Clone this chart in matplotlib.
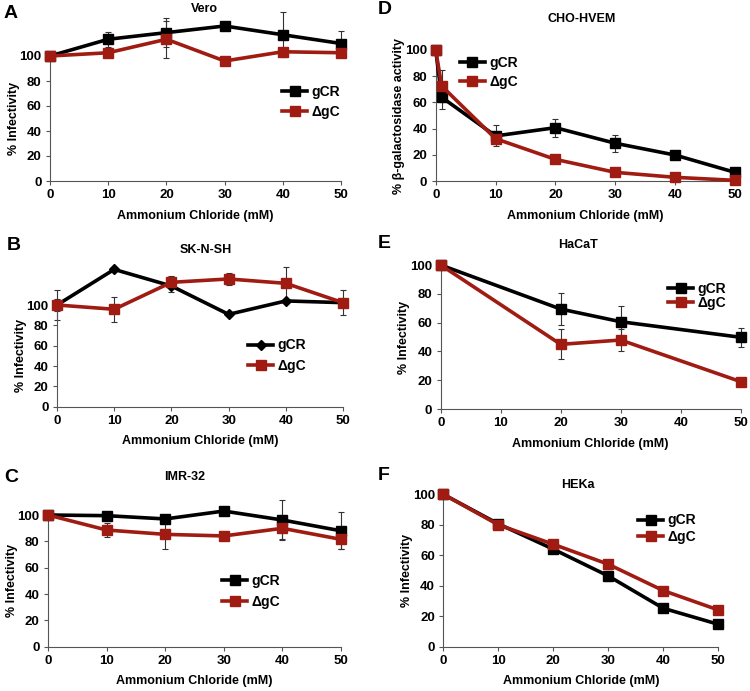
import numpy
import matplotlib
matplotlib.use("Agg")
import matplotlib.pyplot as pyplot

pyplot.rcParams["font.family"] = ["Liberation Sans", "DejaVu Sans"]
pyplot.rcParams["font.weight"] = "bold"

# --- data ---
conc = [0, 10, 20, 30, 40, 50]
concCHO = [0, 1, 10, 20, 30, 40, 50]
concHaCaT = [0, 20, 30, 50]

veroGCR = [100, 113.4, 118.7, 124, 117, 110]
veroGCRErr = [0, 6, 11.5, 0, 18, 10]
veroDgC = [100, 102.6, 113.4, 96, 103.4, 102.6]
veroDgCErr = [0, 0, 15, 0, 0, 0]

sknGCR = [100, 135, 118.7, 90.8, 104, 102.3]
sknGCRErr = [15, 0, 6, 0, 0, 0]
sknDgC = [100, 95.8, 122.3, 125.6, 121.3, 102.3]
sknDgCErr = [6, 12.5, 6, 6, 16, 12.5]

imrGCR = [100, 99.5, 97, 103, 96.2, 88]
imrGCRErr = [0, 0, 0, 0, 15, 14]
imrDgC = [100, 88.6, 85.3, 84.1, 89.9, 81.5]
imrDgCErr = [0, 5, 11, 0, 8, 7]

choGCR = [100, 63.9, 34.4, 40.7, 28.8, 19.8, 6.6]
choGCRErr = [0, 9, 8, 7, 6.5, 0, 0]
choDgC = [100, 72.5, 32.3, 16.5, 6.6, 2.8, 0.5]
choDgCErr = [0, 12, 0, 0, 0, 0, 0]

hacatGCR = [100, 69.4, 60.6, 49.8]
hacatGCRErr = [0, 11, 11, 6.5]
hacatDgC = [100, 44.9, 47.9, 19]
hacatDgCErr = [0, 10.5, 7.5, 0]

hekaGCR = [100, 80.6, 64, 46.4, 25.2, 14.7]
hekaGCRErr = [0, 0, 0, 3, 0, 0]
hekaDgC = [100, 80, 67.2, 54.1, 36.8, 24.1]
hekaDgCErr = [0, 0, 0, 0, 0, 0]

seriesNames = ["gCR", "\u0394gC"]
yTicks = [0, 20, 40, 60, 80, 100]
xTicks = [0, 10, 20, 30, 40, 50]

W, H = 750.0, 691.0
BLACK = "black"
RED = "#a01c12"


def fx(x):
    return x / W


def fy(y):
    return 1.0 - y / H


def rect(left, right, y0, y100):
    return [fx(left), fy(y0), (right - left) / W, (y0 - y100) / H]


panels = [
    # letter, title, ylabel, rect, x, gcr, gcrErr, dgc, dgcErr, gcrMarker, letterPos, titlePos, legendPos, legendSpacing
    ("A", "Vero", "% Infectivity", rect(50, 341, 181, 56), conc,
     veroGCR, veroGCRErr, veroDgC, veroDgCErr, "s", (4, 13), (204, 9), (282, 102), 0.45),
    ("B", "SK-N-SH", "% Infectivity", rect(57, 343, 406.7, 305), conc,
     sknGCR, sknGCRErr, sknDgC, sknDgCErr, "D", (7, 246), (206, 250), (248, 355.5), 0.45),
    ("C", "IMR-32", "% Infectivity", rect(48, 341, 646.7, 515), conc,
     imrGCR, imrGCRErr, imrDgC, imrDgCErr, "s", (4, 478), (185, 477), (222, 591.5), 0.5),
    ("D", "CHO-HVEM", "% \u03b2-galactosidase activity", rect(435.7, 735, 181, 50), concCHO,
     choGCR, choGCRErr, choDgC, choDgCErr, "s", (378, 10), (582, 19), (460, 72.5), 0.4),
    ("E", "HaCaT", "% Infectivity", rect(440.7, 740.7, 409, 265), concHaCaT,
     hacatGCR, hacatGCRErr, hacatDgC, hacatDgCErr, "s", (378, 243), (578, 245), (668, 296), 0.05),
    ("F", "HEKa", "% Infectivity", rect(443.3, 718.3, 646.7, 494.3), conc,
     hekaGCR, hekaGCRErr, hekaDgC, hekaDgCErr, "s", (378, 476), (578, 485), (638, 528.5), 0.15),
]

figure = pyplot.figure(figsize=(7.5, 6.91), dpi=100)

for (letter, title, ylabel, box, x, gcr, gcrErr, dgc, dgcErr, gcrMarker,
     letterPos, titlePos, legendPos, legendSpacing) in panels:
    axis = figure.add_axes(box)

    for values, errors, color, marker, ms, name in [
        (gcr, gcrErr, BLACK, gcrMarker, 7.5 if gcrMarker == "s" else 5, seriesNames[0]),
        (dgc, dgcErr, RED, "s", 7.5, seriesNames[1]),
    ]:
        values = numpy.asarray(values, dtype=float)
        errors = numpy.asarray(errors, dtype=float)
        xs = numpy.asarray(x, dtype=float)
        keep = errors > 0
        if keep.any():
            axis.errorbar(xs[keep], values[keep], yerr=errors[keep], fmt="none",
                          ecolor="#333333", elinewidth=0.8, capsize=2.5,
                          capthick=0.8, clip_on=False, zorder=2)
        axis.plot(xs, values, "-", color=color, linewidth=2.6, marker=marker,
                  markersize=ms, markeredgecolor=color, label=name,
                  clip_on=False, zorder=3)

    axis.set_xlim(0, 50)
    axis.set_ylim(0, 100)
    axis.set_xticks(xTicks)
    axis.set_yticks(yTicks)
    axis.tick_params(labelsize=9.5, length=3, width=0.8, color="#555555", pad=3)
    for label in axis.get_xticklabels() + axis.get_yticklabels():
        label.set_fontweight("bold")
    for side in ["top", "right"]:
        axis.spines[side].set_visible(False)
    for side in ["left", "bottom"]:
        axis.spines[side].set_color("#555555")
        axis.spines[side].set_linewidth(0.8)

    axis.set_xlabel("Ammonium Chloride (mM)", fontsize=9, fontweight="bold", labelpad=6)
    axis.set_ylabel(ylabel, fontsize=9, fontweight="bold", labelpad=0)

    figure.text(fx(letterPos[0]), fy(letterPos[1]), letter, fontsize=14,
                fontweight="bold", ha="left", va="center")
    figure.text(fx(titlePos[0]), fy(titlePos[1]), title, fontsize=9,
                fontweight="bold", ha="center", va="center")

    axis.legend(loc="center left", bbox_to_anchor=(fx(legendPos[0]), fy(legendPos[1])),
                bbox_transform=figure.transFigure, frameon=False, fontsize=10,
                handlelength=1.8, handletextpad=0.3, borderpad=0, borderaxespad=0,
                labelspacing=legendSpacing)

figure.savefig("out.png", dpi=100)
